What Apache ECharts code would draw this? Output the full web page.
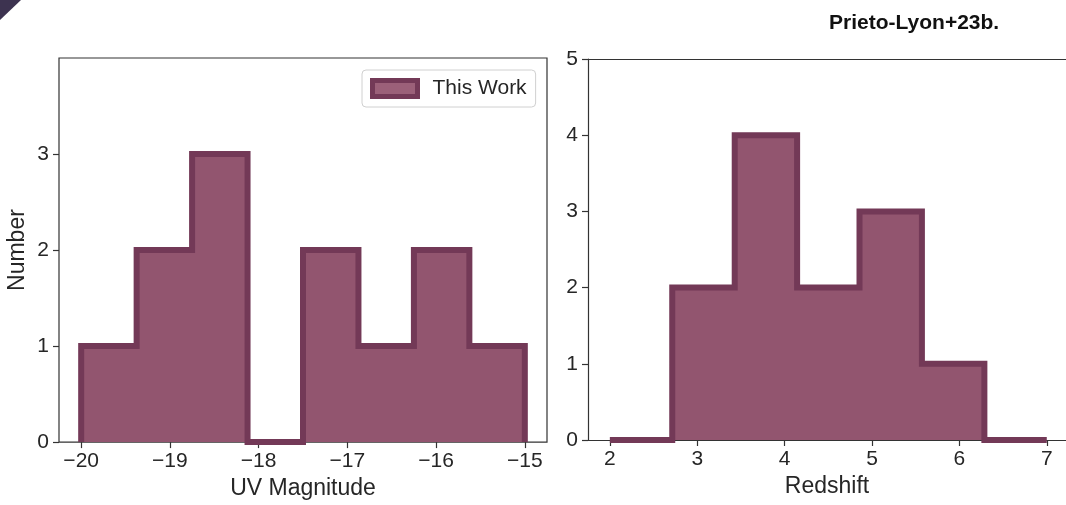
<!DOCTYPE html>
<html><head><meta charset="utf-8">
<script src="https://cdn.jsdelivr.net/npm/echarts@6/dist/echarts.min.js"></script>
<style>html,body{margin:0;padding:0;background:#fff}#c{width:1066px;height:505px}</style>
</head><body><div id="c"></div>
<script>
// ---- data ----
const uvEdges = [-20, -19.375, -18.75, -18.125, -17.5, -16.875, -16.25, -15.625, -15];
const uvCounts = [1, 2, 3, 0, 2, 1, 2, 1];
const zEdges = [2, 2.714, 3.429, 4.143, 4.857, 5.571, 6.286, 7];
const zCounts = [0, 2, 4, 2, 3, 1, 0];
const uvTicks = [-20, -19, -18, -17, -16, -15];
const zTicks = [2, 3, 4, 5, 6, 7];
const numTicksLeft = [0, 1, 2, 3];
const numTicksRight = [0, 1, 2, 3, 4, 5];
const legendLabel = 'This Work';
const titleText = 'Prieto-Lyon+23b.';
const xName1 = 'UV Magnitude';
const xName2 = 'Redshift';
const yName1 = 'Number';

// ---- styling ----
const FONT = "'Liberation Sans', Arial, sans-serif";
const FILL = '#92556f';
const EDGE = '#733957';
const AXC = '#333333';
const TXT = '#262626';

function stepPoints(edges, counts) {
  const pts = [[edges[0], 0]];
  counts.forEach((c, i) => { pts.push([edges[i], c]); pts.push([edges[i + 1], c]); });
  pts.push([edges[edges.length - 1], 0]);
  return pts;
}
const minus = v => String(v).replace('-', '\u2212');

function xAxisCfg(gridIndex, min, max, ticks, name, gap) {
  return {
    type: 'value', gridIndex, min, max, name, nameLocation: 'middle', nameGap: gap,
    nameTextStyle: { fontFamily: FONT, fontSize: 23, color: TXT },
    axisLine: { show: false, onZero: false },
    axisTick: { show: true, length: 6, lineStyle: { color: AXC, width: 1.2 }, customValues: ticks },
    axisLabel: { fontFamily: FONT, fontSize: 21, color: TXT, margin: 9, customValues: ticks, formatter: minus },
    splitLine: { show: false }
  };
}
function yAxisCfg(gridIndex, min, max, ticks, name) {
  return {
    type: 'value', gridIndex, min, max, name, nameLocation: 'middle', nameGap: 30,
    nameTextStyle: { fontFamily: FONT, fontSize: 23, color: TXT },
    axisLine: { show: false, onZero: false },
    axisTick: { show: true, length: 6, lineStyle: { color: AXC, width: 1.2 }, customValues: ticks },
    axisLabel: { fontFamily: FONT, fontSize: 21, color: TXT, margin: 10, customValues: ticks },
    splitLine: { show: false }
  };
}
function histSeries(name, idx, edges, counts) {
  return {
    type: 'line', name, xAxisIndex: idx, yAxisIndex: idx,
    data: stepPoints(edges, counts),
    symbol: 'none', showSymbol: false, clip: true, animation: false,
    lineStyle: { color: EDGE, width: 6, cap: 'butt', join: 'miter' },
    itemStyle: { color: FILL },
    areaStyle: { color: FILL, opacity: 1 }
  };
}

const chart = echarts.init(document.getElementById('c'), null, { renderer: 'canvas' });
chart.setOption({
  animation: false,
  backgroundColor: '#ffffff',
  grid: [
    { left: 59, top: 58, width: 488, height: 387, show: true, borderColor: AXC, borderWidth: 1.2, backgroundColor: 'transparent' },
    { left: 588, top: 59, width: 478, height: 381, show: false }
  ],
  xAxis: [
    xAxisCfg(0, -20.25, -14.75, uvTicks, xName1, 30),
    Object.assign(xAxisCfg(1, 1.75, 7.22, zTicks, xName2, 33), { axisLine: { show: true, onZero: false, lineStyle: { color: AXC, width: 1.2 } } }),
    { type: 'value', gridIndex: 1, position: 'top', min: 1.75, max: 7.22,
      axisLine: { show: true, onZero: false, lineStyle: { color: AXC, width: 1.2 } },
      axisTick: { show: false }, axisLabel: { show: false }, splitLine: { show: false } }
  ],
  yAxis: [
    yAxisCfg(0, 0, 4, numTicksLeft, yName1),
    Object.assign(yAxisCfg(1, 0, 5, numTicksRight, ''), { axisLine: { show: true, onZero: false, lineStyle: { color: AXC, width: 1.2 } } })
  ],
  legend: {
    data: [legendLabel], left: 362, top: 70, icon: 'rect',
    itemWidth: 45, itemHeight: 16, padding: [8, 9, 8, 8],
    backgroundColor: '#ffffff', borderColor: '#d0d0d0', borderWidth: 1, borderRadius: 4,
    itemStyle: { color: '#9b6079', borderColor: EDGE, borderWidth: 5 },
    textStyle: { fontFamily: FONT, fontSize: 21, color: TXT, padding: [0, 0, 0, 10] }
  },
  graphic: [
    { type: 'polygon', shape: { points: [[0, 0], [21, 0], [0, 20]] }, style: { fill: '#3d3350' } },
    { type: 'text', x: 829, y: 23, style: { text: titleText, font: "bold 21px 'Liberation Sans', Arial, sans-serif", fill: '#111111', verticalAlign: 'middle', align: 'left' } }
  ],
  series: [
    histSeries(legendLabel, 0, uvEdges, uvCounts),
    histSeries('z', 1, zEdges, zCounts)
  ]
});
</script>
</body></html>
